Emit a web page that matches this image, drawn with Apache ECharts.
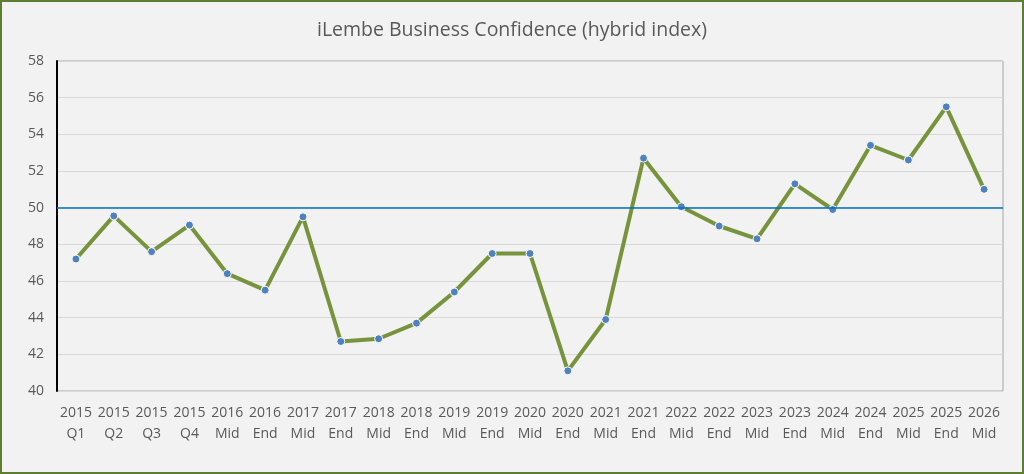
<!DOCTYPE html>
<html><head><meta charset="utf-8">
<script src="https://cdn.jsdelivr.net/npm/echarts@6/dist/echarts.min.js"></script>
<style>html,body{margin:0;padding:0;background:#fff}#c{width:1024px;height:474px;box-sizing:border-box;border:2px solid #5e7c34;background:#f2f2f2}</style>
</head><body><div id="c"></div>
<script>
const categories = ['2015\nQ1','2015\nQ2','2015\nQ3','2015\nQ4','2016\nMid','2016\nEnd','2017\nMid','2017\nEnd','2018\nMid','2018\nEnd','2019\nMid','2019\nEnd','2020\nMid','2020\nEnd','2021\nMid','2021\nEnd','2022\nMid','2022\nEnd','2023\nMid','2023\nEnd','2024\nMid','2024\nEnd','2025\nMid','2025\nEnd','2026\nMid'];
const confidence = [47.2,49.55,47.6,49.05,46.4,45.5,49.5,42.7,42.85,43.7,45.4,47.5,47.5,41.1,43.9,52.7,50.05,49.0,48.3,51.3,49.9,53.4,52.6,55.5,51.0];
const neutralLevel = 50;
const yTicks = {min:40, max:58, interval:2};

const chart = echarts.init(document.getElementById('c'));
chart.setOption({
  backgroundColor:'#f2f2f2',
  title:{text:'iLembe Business Confidence (hybrid index)',left:'center',top:13,
    textStyle:{fontFamily:'Open Sans',fontSize:19.5,fontWeight:'normal',color:'#595959'}},
  grid:{left:55,right:19,top:59,bottom:81,show:true,borderColor:'#a6a6a6',borderWidth:1,backgroundColor:'transparent'},
  xAxis:{type:'category',data:categories,boundaryGap:true,
    axisLine:{show:false},axisTick:{show:false},
    axisLabel:{fontFamily:'Open Sans',fontSize:14,color:'#595959',lineHeight:21,margin:12,interval:0}},
  yAxis:{type:'value',min:yTicks.min,max:yTicks.max,interval:yTicks.interval,
    axisLine:{show:true,lineStyle:{color:'#000',width:2}},axisTick:{show:false},
    axisLabel:{fontFamily:'Open Sans',fontSize:14,color:'#595959',margin:13},
    splitLine:{lineStyle:{color:'#d9d9d9',width:1}}},
  series:[{type:'line',data:confidence,symbol:'circle',symbolSize:8,
    lineStyle:{color:'#77933c',width:4},
    itemStyle:{color:'#4f81bd',borderColor:'#fff',borderWidth:1},
    markLine:{silent:true,symbol:'none',label:{show:false},
      lineStyle:{color:'#0070c0',width:1.5,type:'solid'},
      data:[{yAxis:neutralLevel}]},
    z:3}]
});
</script></body></html>
